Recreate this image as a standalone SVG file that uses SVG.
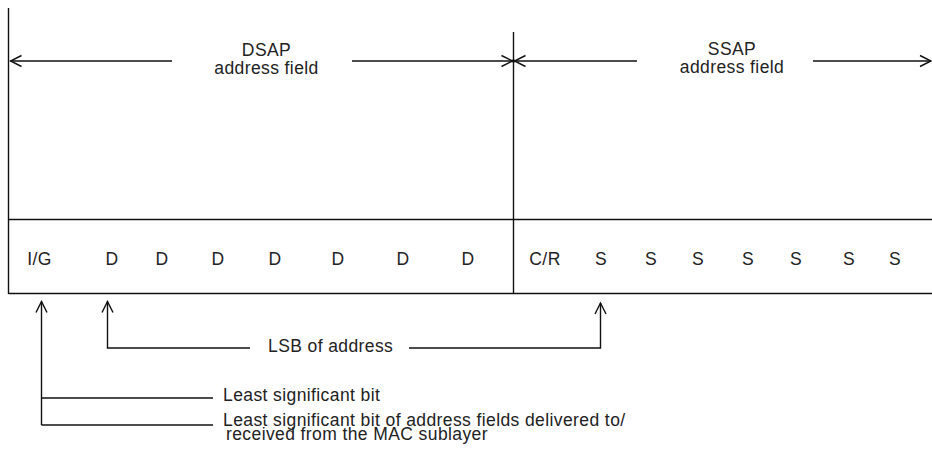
<svg xmlns="http://www.w3.org/2000/svg" width="932" height="450" viewBox="0 0 932 450">
  <style>
    .ln { stroke: #111; stroke-width: 1.4; fill: none; }
    .t { font-family: "Liberation Sans", Arial, sans-serif; font-size: 17.5px; letter-spacing: 0.4px; fill: #222; }
    .m { text-anchor: middle; }
  </style>
  <defs>
    <marker id="arr" markerUnits="userSpaceOnUse" viewBox="-13 -7 15 14" refX="0" refY="0" markerWidth="15" markerHeight="14" orient="auto">
      <path d="M-11,-5.5 L0,0 L-11,5.5" fill="none" stroke="#111" stroke-width="1.4"/>
    </marker>
  </defs>
  <rect width="932" height="450" fill="#fff"/>

  <g id="frame">
    <line class="ln" x1="8.5" y1="8" x2="8.5" y2="294"/>
    <line class="ln" x1="513.5" y1="32" x2="513.5" y2="294"/>
    <line class="ln" x1="8.5" y1="219.5" x2="932" y2="219.5"/>
    <line class="ln" x1="8.5" y1="293.5" x2="932" y2="293.5"/>
  </g>

  <g id="dsap">
    <text class="t m" x="266.5" y="56">DSAP</text>
    <text class="t m" x="266.5" y="73.5">address field</text>
  </g>
  <g id="ssap">
    <text class="t m" x="732" y="55">SSAP</text>
    <text class="t m" x="732" y="73">address field</text>
  </g>

  <g id="dsap-bits">
    <text class="t m" x="39.5" y="265">I/G</text>
    <text class="t m" x="112" y="265">D</text>
    <text class="t m" x="162" y="265">D</text>
    <text class="t m" x="218" y="265">D</text>
    <text class="t m" x="275" y="265">D</text>
    <text class="t m" x="338" y="265">D</text>
    <text class="t m" x="403" y="265">D</text>
    <text class="t m" x="468" y="265">D</text>
  </g>
  <g id="ssap-bits">
    <text class="t m" x="545" y="265">C/R</text>
    <text class="t m" x="601" y="265">S</text>
    <text class="t m" x="651" y="265">S</text>
    <text class="t m" x="698" y="265">S</text>
    <text class="t m" x="748" y="265">S</text>
    <text class="t m" x="796" y="265">S</text>
    <text class="t m" x="849" y="265">S</text>
    <text class="t m" x="895" y="265">S</text>
  </g>

  <g id="labels">
    <text class="t" x="268" y="352">LSB of address</text>
    <text class="t" x="223" y="401">Least significant bit</text>
    <text class="t" x="223" y="426">Least significant bit of address fields delivered to/</text>
    <text class="t" x="226" y="440">received from the MAC sublayer</text>
  </g>

  <g id="connectors">
    <line class="ln" x1="172" y1="61" x2="10.5" y2="61" marker-end="url(#arr)"/>
    <line class="ln" x1="352" y1="61" x2="512.5" y2="61" marker-end="url(#arr)"/>
    <line class="ln" x1="637" y1="61" x2="514.5" y2="61" marker-end="url(#arr)"/>
    <line class="ln" x1="813" y1="61" x2="931" y2="61" marker-end="url(#arr)"/>
    <circle cx="513.5" cy="61" r="1.8" fill="#111"/>

    <polyline class="ln" points="250,348 107.5,348 107.5,301.5" marker-end="url(#arr)"/>
    <polyline class="ln" points="409,348 600.5,348 600.5,303" marker-end="url(#arr)"/>
    <line class="ln" x1="41.5" y1="425" x2="41.5" y2="301.5" marker-end="url(#arr)"/>
    <line class="ln" x1="41.5" y1="398" x2="213" y2="398"/>
    <line class="ln" x1="41.5" y1="425" x2="213" y2="425"/>
  </g>
</svg>
